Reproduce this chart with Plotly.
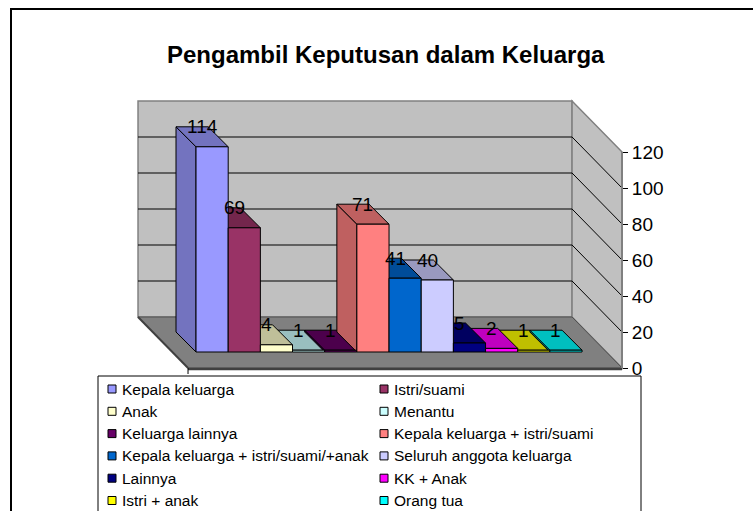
import plotly.graph_objects as go

# ---------------- data ----------------
categories = [
    "Kepala keluarga", "Istri/suami", "Anak", "Menantu", "Keluarga lainnya",
    "Kepala keluarga + istri/suami", "Kepala keluarga + istri/suami/+anak",
    "Seluruh anggota keluarga", "Lainnya", "KK + Anak", "Istri + anak", "Orang tua",
]
values = [114, 69, 4, 1, 1, 71, 41, 40, 5, 2, 1, 1]
front_colors = [
    "#9999FF", "#993366", "#FFFFCC", "#CCFFFF", "#660066", "#FF8080",
    "#0066CC", "#CCCCFF", "#000080", "#FF00FF", "#FFFF00", "#00FFFF",
]
tick_values = [0, 20, 40, 60, 80, 100, 120]
title_text = "Pengambil Keputusan dalam Keluarga"

# ---------------- styling / geometry constants ----------------
W, H = 753, 511
PX_CAT = 32.17      # pixels per category slot
PX_VAL = 1.8        # pixels per value unit
X0_PX = 212.1       # pixel x of first bar centre
Y0_PX = 352.0       # pixel y of bar baseline

FONT = "Liberation Sans, Arial, sans-serif"


def sx(px):
    return px / PX_CAT


def sy(px):
    return px / PX_VAL


xr = [-sx(X0_PX), sx(W - X0_PX)]
yr = [-sy(H - Y0_PX), sy(Y0_PX)]


def paper_x(x):
    return (x - xr[0]) / (xr[1] - xr[0])


def paper_y(y):
    return (y - yr[0]) / (yr[1] - yr[0])


def shade(c, f=0.75):
    c = c.lstrip("#")
    r, g, b = int(c[0:2], 16), int(c[2:4], 16), int(c[4:6], 16)
    return "#%02X%02X%02X" % (round(r * f), round(g * f), round(b * f))


n = len(values)
BDX, BDY = -sx(20), sy(20)            # bar depth offset
FY = -sy(16)                          # floor front edge (value coords)
FX0 = -0.5 - sx(8)                    # floor front-left
FX1 = (n - 0.5) + sx(40)              # floor front-right
FDX, FDY = -sx(50), sy(51)            # wall depth offset
BACK_Y0 = FY + FDY
YMAX = tick_values[-1]


def poly(points):
    return "M " + " L ".join("%.4f,%.4f" % p for p in points) + " Z"


shapes = []
# back wall
shapes.append(dict(type="path", xref="x", yref="y", layer="below",
                   path=poly([(FX0 + FDX, BACK_Y0), (FX1 + FDX, BACK_Y0),
                              (FX1 + FDX, BACK_Y0 + YMAX), (FX0 + FDX, BACK_Y0 + YMAX)]),
                   fillcolor="#C0C0C0", line=dict(color="#808080", width=1.5)))
# right wall
shapes.append(dict(type="path", xref="x", yref="y", layer="below",
                   path=poly([(FX1 + FDX, BACK_Y0), (FX1, FY),
                              (FX1, FY + YMAX), (FX1 + FDX, BACK_Y0 + YMAX)]),
                   fillcolor="#C0C0C0", line=dict(color="#808080", width=1.5)))
# gridlines
for v in tick_values[1:-1]:
    shapes.append(dict(type="line", xref="x", yref="y", layer="below",
                       x0=FX0 + FDX, y0=BACK_Y0 + v, x1=FX1 + FDX, y1=BACK_Y0 + v,
                       line=dict(color="#000000", width=1)))
    shapes.append(dict(type="line", xref="x", yref="y", layer="below",
                       x0=FX1 + FDX, y0=BACK_Y0 + v, x1=FX1, y1=FY + v,
                       line=dict(color="#000000", width=1)))
# floor
shapes.append(dict(type="path", xref="x", yref="y", layer="below",
                   path=poly([(FX0, FY), (FX1, FY), (FX1 + FDX, BACK_Y0), (FX0 + FDX, BACK_Y0)]),
                   fillcolor="#808080", line=dict(color="#505050", width=1)))
shapes.append(dict(type="line", xref="x", yref="y", layer="below",
                   x0=FX0, y0=FY - sy(1), x1=FX1, y1=FY - sy(1),
                   line=dict(color="#404040", width=2.5)))
shapes.append(dict(type="line", xref="x", yref="y", layer="below",
                   x0=FX0 + FDX, y0=BACK_Y0, x1=FX0, y1=FY,
                   line=dict(color="#404040", width=2)))
# category tick under floor corner
shapes.append(dict(type="line", xref="x", yref="y", layer="below",
                   x0=FX0, y0=FY, x1=FX0, y1=FY - sy(6),
                   line=dict(color="#000000", width=1)))

# bar side and top faces (painter's order: lower bars first)
order = sorted(range(n), key=lambda i: values[i])
for i in order:
    v = values[i]
    xl, xrt = i - 0.5, i + 0.5
    sc = shade(front_colors[i])
    shapes.append(dict(type="path", xref="x", yref="y", layer="below",
                       path=poly([(xl, 0), (xl, v), (xl + BDX, v + BDY), (xl + BDX, BDY)]),
                       fillcolor=sc, line=dict(color="#000000", width=1)))
    shapes.append(dict(type="path", xref="x", yref="y", layer="below",
                       path=poly([(xl, v), (xrt, v), (xrt + BDX, v + BDY), (xl + BDX, v + BDY)]),
                       fillcolor=sc, line=dict(color="#000000", width=1)))

# outer chart frame
shapes.append(dict(type="rect", xref="paper", yref="paper", layer="above",
                   x0=11 / W, y0=-0.2, x1=1.2, y1=1 - 9 / H,
                   line=dict(color="#000000", width=2), fillcolor="rgba(0,0,0,0)"))

# legend box
LEG_L, LEG_R, LEG_T = 98, 641, 376
shapes.append(dict(type="rect", xref="paper", yref="paper", layer="above",
                   x0=LEG_L / W, y0=-0.2, x1=LEG_R / W, y1=1 - LEG_T / H,
                   line=dict(color="#000000", width=1), fillcolor="#FFFFFF"))

annotations = []
SQ = 8
col_sq = [108, 380]
col_tx = [120, 392]
row0, row_step = 389, 22.3
for j, name in enumerate(categories):
    r, c = divmod(j, 2)
    yc = row0 + r * row_step
    shapes.append(dict(type="rect", xref="paper", yref="paper", layer="above",
                       x0=col_sq[c] / W, x1=(col_sq[c] + SQ) / W,
                       y0=1 - (yc + SQ / 2) / H, y1=1 - (yc - SQ / 2) / H,
                       fillcolor=front_colors[j], line=dict(color="#000000", width=1)))
    annotations.append(dict(xref="paper", yref="paper", x=col_tx[c] / W, y=1 - yc / H,
                            xanchor="left", yanchor="middle", showarrow=False, text=name,
                            font=dict(family=FONT, size=15.5, color="#000000")))

# value labels
for i, v in enumerate(values):
    annotations.append(dict(xref="x", yref="y", x=i - sx(10), y=v + sy(20),
                            xanchor="center", yanchor="middle", showarrow=False,
                            text=str(v), font=dict(family=FONT, size=19, color="#000000")))

# title
annotations.append(dict(xref="paper", yref="paper", x=386 / W, y=1 - 54 / H,
                        xanchor="center", yanchor="middle", showarrow=False,
                        text="<b>%s</b>" % title_text,
                        font=dict(family=FONT, size=24, color="#000000")))

fig = go.Figure()
fig.add_trace(go.Bar(
    x=list(range(n)), y=values, width=1.0,
    marker=dict(color=front_colors, line=dict(color="#000000", width=1)),
    hovertext=categories, hoverinfo="text+y", showlegend=False,
))
fig.add_trace(go.Scatter(x=[None], y=[None], xaxis="x", yaxis="y2",
                         mode="markers", showlegend=False, hoverinfo="skip"))

fig.update_layout(
    width=W, height=H,
    margin=dict(l=0, r=0, t=0, b=0, pad=0, autoexpand=False),
    paper_bgcolor="#FFFFFF", plot_bgcolor="rgba(0,0,0,0)",
    showlegend=False,
    xaxis=dict(range=xr, visible=False, fixedrange=True, automargin=False),
    yaxis=dict(range=yr, visible=False, fixedrange=True, automargin=False),
    yaxis2=dict(range=[0, YMAX], domain=[paper_y(FY), paper_y(FY + YMAX)],
                anchor="free", position=paper_x(FX1), side="right", automargin=False,
                tickvals=tick_values, ticks="outside", ticklen=5, tickcolor="#000000",
                showline=True, linecolor="#808080", linewidth=2, showgrid=False,
                zeroline=False, tickfont=dict(family=FONT, size=19, color="#000000"),
                fixedrange=True),
    shapes=shapes,
    annotations=annotations,
)

fig.write_html("out.html", config={"displayModeBar": False},
               post_script="document.body.style.margin='0px';")
